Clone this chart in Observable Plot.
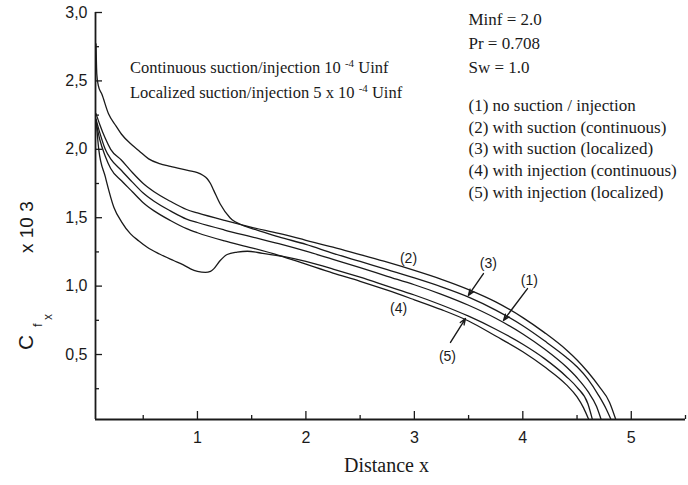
<!DOCTYPE html>
<html>
<head>
<meta charset="utf-8">
<script src="https://cdn.jsdelivr.net/npm/d3@7"></script>
<script src="https://cdn.jsdelivr.net/npm/@observablehq/plot@0.6"></script>
<style>
  html, body { margin: 0; padding: 0; background: #fff; }
</style>
</head>
<body>
<div id="chart"></div>
<script>
// ---- Data ----
// (1) no suction / injection
const x1 = [0.065, 0.1, 0.15, 0.2, 0.3, 0.4, 0.5, 0.6, 0.75, 0.9, 1.0, 1.25, 1.5, 1.75, 2.0, 2.25, 2.5, 2.75, 3.0, 3.25, 3.5, 3.75, 4.0, 4.2, 4.4, 4.5, 4.6, 4.68, 4.72];
const y1 = [2.22, 2.12, 2.0, 1.93, 1.845, 1.76, 1.68, 1.62, 1.55, 1.49, 1.465, 1.41, 1.36, 1.31, 1.255, 1.195, 1.135, 1.072, 1.01, 0.94, 0.86, 0.765, 0.65, 0.54, 0.41, 0.33, 0.23, 0.12, 0.03];
// (2) with suction (continuous)
const x2 = [0.065, 0.1, 0.15, 0.2, 0.3, 0.4, 0.5, 0.6, 0.75, 0.9, 1.0, 1.25, 1.5, 1.75, 2.0, 2.25, 2.5, 2.75, 3.0, 3.25, 3.5, 3.75, 4.0, 4.2, 4.4, 4.5, 4.6, 4.7, 4.8, 4.855];
const y2 = [2.26, 2.18, 2.08, 2.0, 1.92, 1.83, 1.75, 1.69, 1.62, 1.56, 1.535, 1.48, 1.43, 1.385, 1.335, 1.285, 1.23, 1.175, 1.115, 1.05, 0.975, 0.885, 0.77, 0.66, 0.535, 0.46, 0.372, 0.27, 0.15, 0.03];
// (3) with suction (localized)
const x3 = [0.065, 0.072, 0.085, 0.12, 0.18, 0.25, 0.3, 0.4, 0.46, 0.55, 0.65, 0.75, 0.85, 0.92, 1.0, 1.05, 1.09, 1.12, 1.15, 1.21, 1.3, 1.43, 1.55, 1.75, 2.0, 2.25, 2.5, 2.75, 3.0, 3.25, 3.5, 3.75, 4.0, 4.2, 4.4, 4.5, 4.6, 4.7, 4.77, 4.81];
const y3 = [2.77, 2.55, 2.47, 2.40, 2.26, 2.17, 2.11, 2.03, 1.99, 1.93, 1.895, 1.875, 1.857, 1.845, 1.83, 1.81, 1.785, 1.75, 1.70, 1.60, 1.50, 1.44, 1.41, 1.36, 1.305, 1.24, 1.18, 1.12, 1.06, 0.995, 0.92, 0.825, 0.71, 0.60, 0.48, 0.41, 0.32, 0.2, 0.1, 0.03];
// (4) with injection (continuous)
const x4 = [0.065, 0.1, 0.15, 0.2, 0.3, 0.4, 0.5, 0.6, 0.75, 0.9, 1.0, 1.25, 1.5, 1.75, 2.0, 2.25, 2.5, 2.75, 3.0, 3.25, 3.5, 3.75, 4.0, 4.2, 4.4, 4.5, 4.56, 4.605];
const y4 = [2.2, 2.07, 1.95, 1.86, 1.77, 1.69, 1.61, 1.55, 1.48, 1.42, 1.39, 1.33, 1.28, 1.225, 1.16, 1.095, 1.035, 0.97, 0.90, 0.828, 0.745, 0.635, 0.52, 0.41, 0.28, 0.19, 0.11, 0.03];
// (5) with injection (localized)
const x5 = [0.065, 0.09, 0.15, 0.229, 0.3, 0.383, 0.46, 0.537, 0.65, 0.78, 0.87, 0.936, 1.0, 1.074, 1.12, 1.15, 1.21, 1.274, 1.366, 1.46, 1.6, 1.8, 2.0, 2.25, 2.5, 2.75, 3.0, 3.25, 3.5, 3.75, 4.0, 4.2, 4.4, 4.5, 4.6, 4.64];
const y5 = [2.22, 2.0, 1.80, 1.577, 1.47, 1.382, 1.33, 1.284, 1.235, 1.187, 1.155, 1.126, 1.108, 1.10, 1.108, 1.126, 1.187, 1.231, 1.248, 1.255, 1.24, 1.215, 1.18, 1.125, 1.065, 1.0, 0.935, 0.862, 0.78, 0.685, 0.575, 0.47, 0.34, 0.26, 0.14, 0.03];

const curveX = [x1, x2, x3, x4, x5];
const curveY = [y1, y2, y3, y4, y5];

// Axis ticks
const xDomain = [0.06, 5.5];
const yDomain = [0.025, 3.0];
const xMajor = [1, 2, 3, 4, 5];
const xMinor = [0.5, 1.5, 2.5, 3.5, 4.5, 5.5];
const yMajor = [0.5, 1.0, 1.5, 2.0, 2.5, 3.0];
const yMinor = [0.25, 0.75, 1.25, 1.75, 2.25, 2.75];

// Curve labels and arrows (annotation anchors in data units)
const labelText = ["(2)", "(3)", "(1)", "(4)", "(5)"];
const labelX = [2.946, 3.683, 4.061, 2.854, 3.305];
const labelY = [1.202, 1.165, 1.041, 0.836, 0.486];
const arrowFromX = [3.637, 4.043, 3.333];
const arrowFromY = [1.092, 0.982, 0.588];
const arrowToX = [3.498, 3.822, 3.471];
const arrowToY = [0.932, 0.749, 0.763];

// Texts
const paramLines = ["Minf = 2.0", "Pr = 0.708", "Sw = 1.0"];
const legendLines = [
  "(1) no suction / injection",
  "(2) with suction (continuous)",
  "(3) with suction (localized)",
  "(4) with injection (continuous)",
  "(5) with injection (localized)"
];
const xLabel = "Distance x";

// ---- Build tables ----
const curves = curveX.map((xs, k) => xs.map((x, i) => ({x, y: curveY[k][i]})));
const labels = labelText.map((t, i) => ({t, x: labelX[i], y: labelY[i]}));
const arrows = arrowFromX.map((x, i) => ({x1: x, y1: arrowFromY[i], x2: arrowToX[i], y2: arrowToY[i]}));

const fmt = d => d.toFixed(1).replace(".", ",");
const ink = "#1a1a1a";
const serif = "'Liberation Serif', 'Times New Roman', serif";
const sans = "'Liberation Sans', Arial, sans-serif";

const chart = Plot.plot({
  width: 688,
  height: 485,
  marginLeft: 95,
  marginRight: 3,
  marginTop: 12,
  marginBottom: 66,
  x: {domain: xDomain, axis: null, label: null},
  y: {domain: yDomain, axis: null, label: null},
  style: {fontFamily: sans, fontSize: "16px", color: ink, background: "#fff", overflow: "visible"},
  marks: [
    Plot.ruleX([xDomain[0]], {stroke: ink, strokeWidth: 1.8}),
    Plot.ruleY([yDomain[0]], {stroke: ink, strokeWidth: 1.8}),
    Plot.axisY(yMajor, {anchor: "left", tickSize: -7, tickPadding: 15, tickFormat: fmt, label: null, fontSize: 16, strokeWidth: 1.3}),
    Plot.axisY(yMinor, {anchor: "left", tickSize: -4, tickFormat: () => "", label: null, strokeWidth: 1.3}),
    Plot.axisX(xMajor, {anchor: "bottom", tickSize: -8, tickPadding: 20, tickFormat: d => String(d), label: null, fontSize: 16, strokeWidth: 1.3}),
    Plot.axisX(xMinor, {anchor: "bottom", tickSize: -4, tickFormat: () => "", label: null, strokeWidth: 1.3}),
    ...curves.map(c => Plot.line(c, {x: "x", y: "y", curve: "monotone-x", stroke: ink, strokeWidth: 1.3})),
    Plot.text(labels, {x: "x", y: "y", text: "t", fontSize: 14, fontFamily: sans, fill: ink}),
    Plot.arrow(arrows, {x1: "x1", y1: "y1", x2: "x2", y2: "y2", stroke: ink, strokeWidth: 1.4, headLength: 7, headAngle: 40}),
    Plot.text([paramLines.join("\n")], {text: d => d, frameAnchor: "top-left", dx: 373, dy: -4.7, lineAnchor: "top", textAnchor: "start", fontFamily: serif, fontSize: 17, lineHeight: 1.41, fill: ink}),
    Plot.text([legendLines.join("\n")], {text: d => d, frameAnchor: "top-left", dx: 373, dy: 83, lineAnchor: "top", textAnchor: "start", fontFamily: serif, fontSize: 17, lineHeight: 1.276, fill: ink}),
    Plot.text([xLabel], {text: d => d, frameAnchor: "bottom", dx: -4, dy: 52.6, fontFamily: serif, fontSize: 20, fill: ink})
  ]
});

document.getElementById("chart").appendChild(chart);

// ---- Rich texts with sub/superscripts ----
const svg = d3.select(chart);
const notes = [
  {pre: "Continuous suction/injection 10 ", sup: "-4", post: " Uinf", y: 73},
  {pre: "Localized suction/injection 5 x 10 ", sup: "-4", post: " Uinf", y: 98}
];
notes.forEach(n => {
  const t = svg.append("text")
    .attr("x", 130).attr("y", n.y)
    .attr("text-anchor", "start")
    .attr("font-family", serif).attr("font-size", 16.5).attr("fill", ink);
  t.append("tspan").text(n.pre);
  t.append("tspan").attr("dy", -6).attr("font-size", 11).text(n.sup);
  t.append("tspan").attr("dy", 6).text(n.post);
});

const yl = svg.append("text")
  .attr("transform", "translate(33,350) rotate(-90)")
  .attr("text-anchor", "start")
  .attr("font-family", sans).attr("font-size", 21).attr("fill", ink);
yl.append("tspan").attr("x", 0).attr("y", 0).text("C");
yl.append("tspan").attr("x", 23).attr("y", 9).attr("font-size", 13).text("f");
yl.append("tspan").attr("x", 30).attr("y", 19).attr("font-size", 12).text("x");
yl.append("tspan").attr("x", 97).attr("y", 0).attr("font-size", 19).text("x 10 3");
</script>
</body>
</html>
